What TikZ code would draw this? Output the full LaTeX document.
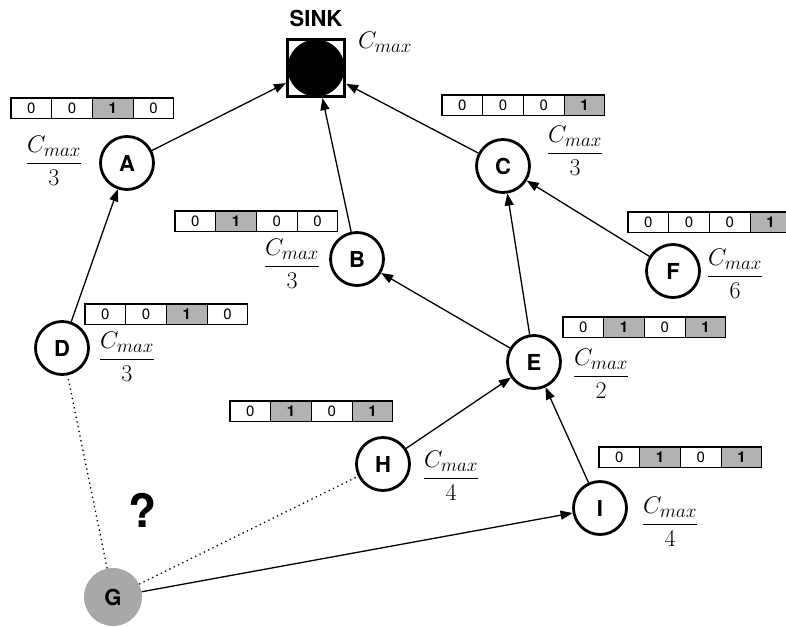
\RequirePackage{fix-cm}
\documentclass[tikz,border=0pt]{standalone}
\usepackage{fontspec}
\newfontfamily\hv{TeX Gyre Heros}
\usetikzlibrary{arrows.meta}
\DeclareMathSizes{24}{24}{19}{15}
\newcommand\cfr[1]{\displaystyle\frac{C_{max}}{#1}}
\tikzset{
  nd/.style={circle, draw, line width=2.8pt, minimum size=53pt, inner sep=0pt,
    font=\hv\bfseries\fontsize{22}{26}\selectfont},
  gnode/.style={circle, fill=gray!68, minimum size=58pt, inner sep=0pt,
    font=\hv\bfseries\fontsize{22}{26}\selectfont},
  sinknode/.style={rectangle, draw, line width=3.2pt, minimum size=57pt, inner sep=0pt,
    path picture={\fill[black] (path picture bounding box.center) circle (28.5pt);}},
  edge/.style={line width=1.3pt, -{Triangle[length=12pt,width=9pt]}},
  dots/.style={line width=1.3pt, dash pattern=on 1.3pt off 3.5pt},
  lab/.style={font=\fontsize{24}{28}\selectfont, inner sep=0pt},
  cell/.style={draw, line width=1.1pt, minimum width=40.7pt, minimum height=20.5pt,
    inner sep=0pt, outer sep=0pt, font=\hv\fontsize{15}{18}\selectfont},
  bit0/.style={cell, fill=white},
  bit1/.style={cell, fill=gray!60, font=\hv\bfseries\fontsize{15}{18}\selectfont},
}
\newcommand\bitrow[6]{%
  \node[bit#3, anchor=north west] (#1-1) at (#2) {#3};
  \node[bit#4, anchor=west] (#1-2) at (#1-1.east) {#4};
  \node[bit#5, anchor=west] (#1-3) at (#1-2.east) {#5};
  \node[bit#6, anchor=west] (#1-4) at (#1-3.east) {#6};
}
\begin{document}
\begin{tikzpicture}[x=1pt,y=-1pt]
\useasboundingbox (0,0) rectangle (786,626);

% nodes
\node[sinknode] (sink) at (316,68) {};
\node[font=\hv\bfseries\fontsize{22}{26}\selectfont] (sinklab) at (316,18) {SINK};
\node[lab] (sinkc) at (385,42) {$C_{max}$};

\node[nd] (A) at (127,163) {A};
\node[nd] (B) at (357,259) {B};
\node[nd] (C) at (503,166) {C};
\node[nd] (D) at (62,348) {D};
\node[nd] (E) at (534,362) {E};
\node[nd] (F) at (673,271) {F};
\node[nd] (H) at (383,464) {H};
\node[nd] (I) at (600,508) {I};
\node[gnode] (G) at (113,597) {G};

\node[font=\hv\bfseries\fontsize{46}{54}\selectfont] (q) at (143,510) {?};

% labels
\node[lab] (lA) at (54,161) {$\cfr{3}$};
\node[lab] (lB) at (292,264) {$\cfr{3}$};
\node[lab] (lC) at (575,151) {$\cfr{3}$};
\node[lab] (lF) at (735,274) {$\cfr{6}$};
\node[lab] (lD) at (127,357) {$\cfr{3}$};
\node[lab] (lE) at (601,374) {$\cfr{2}$};
\node[lab] (lH) at (451,476) {$\cfr{4}$};
\node[lab] (lI) at (670,522) {$\cfr{4}$};

% bit rows
\bitrow{bA}{11,98}{0}{0}{1}{0}
\bitrow{bB}{175,211}{0}{1}{0}{0}
\bitrow{bC}{442,95}{0}{0}{0}{1}
\bitrow{bF}{628,212}{0}{0}{0}{1}
\bitrow{bD}{85,304}{0}{0}{1}{0}
\bitrow{bE}{563,317}{0}{1}{0}{1}
\bitrow{bH}{230,401}{0}{1}{0}{1}
\bitrow{bI}{599,447}{0}{1}{0}{1}

% edges
\draw[edge] (A) -- (sink);
\draw[edge] (B) -- (sink);
\draw[edge] (C) -- (sink);
\draw[edge] (D) -- (A);
\draw[edge] (E) -- (B);
\draw[edge] (E) -- (C);
\draw[edge] (F) -- (C);
\draw[edge] (H) -- (E);
\draw[edge] (I) -- (E);
\draw[edge] (G) -- (I);
\draw[dots] (G) -- (D);
\draw[dots] (G) -- (H);
\end{tikzpicture}
\end{document}
